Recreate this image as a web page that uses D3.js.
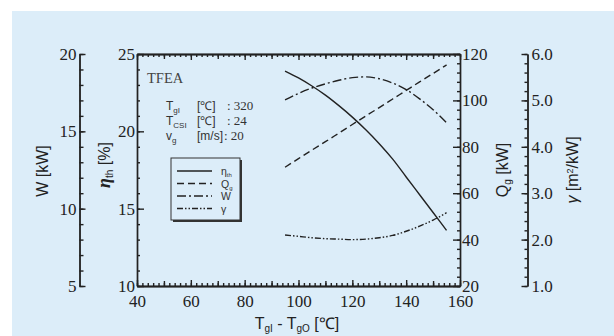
<!DOCTYPE html>
<html>
<head>
<meta charset="utf-8">
<script src="https://cdn.jsdelivr.net/npm/d3@7"></script>
<style>
  body { margin: 0; background: #fff; }
  .tk text { font-family: "Liberation Serif", serif; font-size: 17px; fill: #222; }
  .tk path, .tk line { stroke: #222; stroke-width: 1.4; }
  .ttl { font-family: "Liberation Sans", Arial, sans-serif; font-size: 16px; fill: #222; }
</style>
</head>
<body>
<div id="chart"></div>
<script>
// temperature drop T_gI - T_gO
var dT = [95, 100, 105, 110, 115, 120, 125, 130, 135, 140, 145, 150, 155];
// thermal efficiency [%]
var etaTh = [23.9, 23.45, 22.93, 22.34, 21.66, 20.92, 20.1, 19.2, 18.2, 17.05, 15.9, 14.75, 13.6];
// heat input Q_g [kW]
var qG = [71.2, 74.9, 78.6, 82.2, 85.9, 89.6, 93.3, 96.9, 100.6, 104.3, 108.0, 111.6, 115.3];
// power W [kW]
var powerW = [17.03, 17.45, 17.8, 18.07, 18.3, 18.47, 18.52, 18.4, 18.12, 17.7, 17.1, 16.4, 15.56];
// gamma [m2/kW]
var gammaV = [2.1, 2.07, 2.04, 2.02, 2.01, 2.0, 2.01, 2.04, 2.09, 2.18, 2.29, 2.42, 2.58];

var xTicks = [40, 60, 80, 100, 120, 140, 160];
var wTicks = [5, 10, 15, 20];
var etaTicks = [10, 15, 20, 25];
var qTicks = [20, 40, 60, 80, 100, 120];
var gTicks = [1, 2, 3, 4, 5, 6];

var svgWidth = 614;
var svgHeight = 336;

var svg = d3.select("#chart").append("svg")
  .attr("width", svgWidth)
  .attr("height", svgHeight);

// light blue panel
svg.append("rect")
  .attr("x", 12).attr("y", 11)
  .attr("width", svgWidth - 12).attr("height", svgHeight - 11)
  .attr("fill", "#dcedf9");

var box = { left: 137, right: 460, top: 54, bottom: 286 };

var x = d3.scaleLinear().domain([40, 160]).range([box.left, box.right]);
var yEta = d3.scaleLinear().domain([10, 25]).range([box.bottom, box.top]);
var yW = d3.scaleLinear().domain([5, 20]).range([box.bottom, box.top]);
var yQ = d3.scaleLinear().domain([20, 120]).range([box.bottom, box.top]);
var yG = d3.scaleLinear().domain([1, 6]).range([box.bottom, box.top]);

// helper: minor ticks axis
function minor(axisFn, scale, vals, size) {
  return axisFn(scale).tickValues(vals).tickFormat("").tickSizeInner(-size).tickSizeOuter(0);
}

// ---- x axis (bottom) ----
var gx = svg.append("g").attr("class", "tk").attr("transform", `translate(0,${box.bottom})`);
gx.call(minor(d3.axisBottom, x, d3.range(40, 161, 2), 3));
gx.append("g").call(d3.axisBottom(x).tickValues(xTicks).tickSizeInner(-6).tickSizeOuter(0).tickPadding(9).tickFormat(d3.format("d")));
gx.append("g").call(minor(d3.axisBottom, x, d3.range(50, 160, 20), 5));

// ---- top border ----
var gt = svg.append("g").attr("class", "tk").attr("transform", `translate(0,${box.top})`);
gt.call(minor(d3.axisTop, x, d3.range(40, 161, 2), 3));
gt.append("g").call(minor(d3.axisTop, x, d3.range(50, 160, 20), 5));
gt.append("g").call(minor(d3.axisTop, x, xTicks, 6));

// ---- eta axis (box left) ----
var ge = svg.append("g").attr("class", "tk").attr("transform", `translate(${box.left},0)`);
ge.call(minor(d3.axisLeft, yEta, d3.range(10, 25.1, 1), 3));
ge.append("g").call(d3.axisLeft(yEta).tickValues(etaTicks).tickSizeInner(-7).tickSizeOuter(0).tickPadding(2));

// ---- Q axis (box right) ----
var gq = svg.append("g").attr("class", "tk").attr("transform", `translate(${box.right},0)`);
gq.call(minor(d3.axisRight, yQ, d3.range(20, 120.1, 4), 3));
gq.append("g").call(d3.axisRight(yQ).tickValues(qTicks).tickSizeInner(-7).tickSizeOuter(0).tickPadding(2));

// ---- W axis (far left) ----
var gw = svg.append("g").attr("class", "tk").attr("transform", "translate(79.5,0)");
gw.call(minor(d3.axisLeft, yW, d3.range(5, 20.1, 1), 4));
gw.append("g").call(d3.axisLeft(yW).tickValues(wTicks).tickSizeInner(-6).tickSizeOuter(0).tickPadding(3));

// ---- gamma axis (far right) ----
var gg = svg.append("g").attr("class", "tk").attr("transform", "translate(527.5,0)");
gg.call(minor(d3.axisRight, yG, d3.range(1, 6.01, 0.2), 3));
gg.append("g").call(d3.axisRight(yG).tickValues(gTicks).tickSizeInner(-6).tickSizeOuter(0).tickPadding(4).tickFormat(d3.format(".1f")));

// ---- curves ----
var series = [
  { vals: etaTh, y: yEta, dash: null },
  { vals: qG, y: yQ, dash: "7,4" },
  { vals: powerW, y: yW, dash: "9,3,2,3" },
  { vals: gammaV, y: yG, dash: "6,2,1.5,2,1.5,2" }
];

series.forEach(function(s) {
  var line = d3.line()
    .x((d, i) => x(dT[i]))
    .y(d => s.y(d))
    .curve(d3.curveMonotoneX);
  svg.append("path")
    .datum(s.vals)
    .attr("d", line)
    .attr("fill", "none")
    .attr("stroke", "#222")
    .attr("stroke-width", 1.4)
    .attr("stroke-dasharray", s.dash);
});

// ---- annotations ----
svg.append("text")
  .attr("x", 147).attr("y", 83)
  .style("font-family", "Liberation Serif, serif").style("font-size", "14.5px").attr("fill", "#444")
  .text("TFEA");

var params = [
  { a: "T", sub: "gI", b: "[℃]", c: ": 320", y: 110 },
  { a: "T", sub: "CSI", b: "[℃]", c: ": 24", y: 125 },
  { a: "v", sub: "g", b: "[m/s]", c: ": 20", y: 140 }
];
params.forEach(function(p) {
  var t = svg.append("text").attr("x", 166).attr("y", p.y)
    .style("font-family", "Liberation Sans, sans-serif").style("font-size", "12px").attr("fill", "#333");
  t.append("tspan").text(p.a);
  t.append("tspan").attr("dy", 3).style("font-size", "8px").text(p.sub);
  svg.append("text").attr("x", 197).attr("y", p.y)
    .style("font-family", "Liberation Sans, sans-serif").style("font-size", "12px").attr("fill", "#333")
    .text(p.b);
  svg.append("text").attr("x", p.sub === "g" ? 224 : 227).attr("y", p.y)
    .style("font-family", "Liberation Serif, serif").style("font-size", "13px").attr("fill", "#333")
    .text(p.c);
});

// ---- legend ----
var leg = svg.append("g");
leg.append("rect").attr("x", 173).attr("y", 160).attr("width", 69).attr("height", 62).attr("fill", "#333");
leg.append("rect").attr("x", 171).attr("y", 158).attr("width", 69).attr("height", 62)
  .attr("fill", "#dcedf9").attr("stroke", "#333").attr("stroke-width", 1);
var legNames = [["η", "th"], ["Q", "g"], ["W", ""], ["γ", ""]];
series.forEach(function(s, i) {
  var ly = 171 + i * 12.5;
  leg.append("line").attr("x1", 177).attr("x2", 212).attr("y1", ly).attr("y2", ly)
    .attr("stroke", "#222").attr("stroke-width", 1.4).attr("stroke-dasharray", s.dash);
  var t = leg.append("text").attr("x", 221).attr("y", ly + 4)
    .style("font-family", "Liberation Sans, sans-serif").style("font-size", "10.5px").attr("fill", "#333");
  t.append("tspan").text(legNames[i][0]);
  if (legNames[i][1]) t.append("tspan").attr("dy", 2).style("font-size", "6px").text(legNames[i][1]);
});

// ---- axis titles ----
function vTitle(cx, cy, build) {
  var t = svg.append("text").attr("class", "ttl")
    .attr("transform", `translate(${cx},${cy}) rotate(-90)`)
    .attr("text-anchor", "middle");
  build(t);
}
vTitle(48, 171, function(t) { t.text("W  [kW]"); });
vTitle(110, 165, function(t) {
  t.append("tspan").style("font-family", "Liberation Serif, serif").style("font-style", "italic")
    .style("font-weight", "bold").style("font-size", "18px").text("η");
  t.append("tspan").attr("dy", 3).style("font-size", "10px").text("th");
  t.append("tspan").attr("dy", -3).text("  [%]");
});
vTitle(508, 170, function(t) {
  t.append("tspan").text("Q");
  t.append("tspan").attr("dy", 3).style("font-size", "10px").text("g");
  t.append("tspan").attr("dy", -3).text("  [kW]");
});
vTitle(578, 170, function(t) {
  t.append("tspan").style("font-style", "italic").text("γ");
  t.append("tspan").text(" [m");
  t.append("tspan").attr("dy", -5).style("font-size", "9px").text("2");
  t.append("tspan").attr("dy", 5).text("/kW]");
});

var xt = svg.append("text").attr("class", "ttl")
  .attr("x", 297).attr("y", 329).attr("text-anchor", "middle");
xt.append("tspan").text("T");
xt.append("tspan").attr("dy", 3).style("font-size", "10px").text("gI");
xt.append("tspan").attr("dy", -3).text("  -  T");
xt.append("tspan").attr("dy", 3).style("font-size", "10px").text("gO");
xt.append("tspan").attr("dy", -3).text("   [℃]");
</script>
</body>
</html>
